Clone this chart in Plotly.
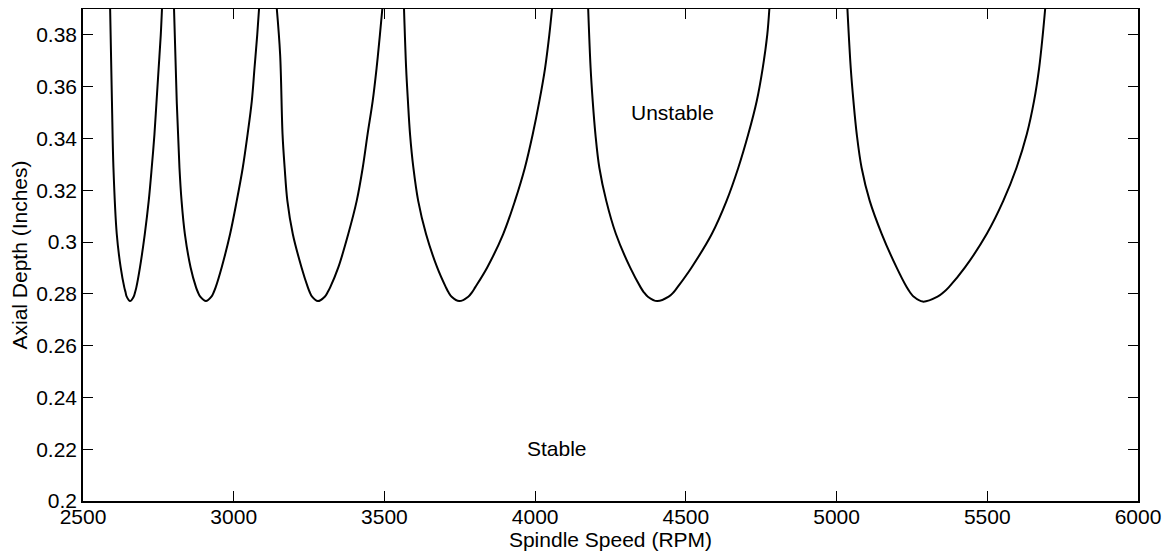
import plotly.graph_objects as go

# Stability lobes (spindle speed in RPM, axial depth in inches)
lobe1_rpm = [2590, 2596, 2601, 2612, 2625, 2637, 2641, 2645, 2656, 2668, 2673, 2677, 2689, 2705, 2718, 2728, 2737, 2744, 2751, 2758, 2762]
lobe1_depth = [0.390, 0.3544, 0.3287, 0.3031, 0.2902, 0.2825, 0.2807, 0.2789, 0.2772, 0.2789, 0.2807, 0.2825, 0.2902, 0.3031, 0.3159, 0.3287, 0.3416, 0.3544, 0.3672, 0.3800, 0.390]

lobe2_rpm = [2802, 2811, 2820, 2827, 2838, 2857, 2875, 2881, 2889, 2908, 2926, 2934, 2940, 2960, 2988, 3010, 3030, 3046, 3060, 3069, 3078, 3084]
lobe2_depth = [0.390, 0.3544, 0.3287, 0.3159, 0.3031, 0.2902, 0.2825, 0.2807, 0.2789, 0.2772, 0.2789, 0.2807, 0.2825, 0.2902, 0.3031, 0.3159, 0.3287, 0.3416, 0.3544, 0.3672, 0.3800, 0.390]

lobe3_rpm = [3143, 3154, 3162, 3169, 3178, 3196, 3225, 3246, 3252, 3260, 3279, 3302, 3312, 3320, 3347, 3380, 3408, 3428, 3444, 3461, 3474, 3485, 3493]
lobe3_depth = [0.390, 0.3724, 0.3416, 0.3287, 0.3159, 0.3031, 0.2902, 0.2825, 0.2807, 0.2789, 0.2772, 0.2789, 0.2807, 0.2825, 0.2902, 0.3031, 0.3159, 0.3287, 0.3416, 0.3544, 0.3672, 0.3800, 0.390]

lobe4_rpm = [3565, 3572, 3578, 3585, 3596, 3612, 3638, 3675, 3704, 3712, 3723, 3748, 3778, 3791, 3801, 3841, 3894, 3933, 3966, 3992, 4014, 4033, 4047, 4056]
lobe4_depth = [0.390, 0.3672, 0.3544, 0.3416, 0.3287, 0.3159, 0.3031, 0.2902, 0.2825, 0.2807, 0.2789, 0.2772, 0.2789, 0.2807, 0.2825, 0.2902, 0.3031, 0.3159, 0.3287, 0.3416, 0.3544, 0.3672, 0.3800, 0.390]

lobe5_rpm = [4176, 4184, 4191, 4200, 4213, 4236, 4268, 4315, 4350, 4360, 4374, 4405, 4443, 4460, 4472, 4519, 4586, 4635, 4674, 4707, 4735, 4755, 4770, 4777]
lobe5_depth = [0.390, 0.3672, 0.3544, 0.3416, 0.3287, 0.3159, 0.3031, 0.2902, 0.2825, 0.2807, 0.2789, 0.2772, 0.2789, 0.2807, 0.2825, 0.2902, 0.3031, 0.3159, 0.3287, 0.3416, 0.3544, 0.3672, 0.3800, 0.390]

lobe6_rpm = [5036, 5047, 5056, 5067, 5083, 5110, 5150, 5199, 5233, 5243, 5256, 5286, 5335, 5356, 5372, 5426, 5498, 5553, 5597, 5631, 5655, 5672, 5684, 5692]
lobe6_depth = [0.390, 0.3672, 0.3544, 0.3416, 0.3287, 0.3159, 0.3031, 0.2902, 0.2825, 0.2807, 0.2789, 0.2770, 0.2789, 0.2807, 0.2825, 0.2902, 0.3031, 0.3159, 0.3287, 0.3416, 0.3544, 0.3672, 0.3800, 0.390]

lobes = [
    (lobe1_rpm, lobe1_depth),
    (lobe2_rpm, lobe2_depth),
    (lobe3_rpm, lobe3_depth),
    (lobe4_rpm, lobe4_depth),
    (lobe5_rpm, lobe5_depth),
    (lobe6_rpm, lobe6_depth),
]

x_ticks = [2500, 3000, 3500, 4000, 4500, 5000, 5500, 6000]
x_ticktext = ["2500", "3000", "3500", "4000", "4500", "5000", "5500", "6000"]
y_ticks = [0.20, 0.22, 0.24, 0.26, 0.28, 0.30, 0.32, 0.34, 0.36, 0.38]
y_ticktext = ["0.2", "0.22", "0.24", "0.26", "0.28", "0.3", "0.32", "0.34", "0.36", "0.38"]

region_labels = ["Unstable", "Stable"]
region_x = [4310, 3965]
region_y = [0.350, 0.2203]

FONT = "Liberation Sans, Arial, Helvetica, sans-serif"
FS = 21

fig = go.Figure()
for rpm, depth in lobes:
    fig.add_trace(go.Scatter(
        x=rpm, y=depth, mode="lines",
        line=dict(color="black", width=2, shape="spline", smoothing=1.0),
        showlegend=False, hoverinfo="x+y",
    ))

for txt, xx, yy in zip(region_labels, region_x, region_y):
    fig.add_annotation(x=xx, y=yy, text=txt, showarrow=False, xanchor="left", yanchor="middle",
                       font=dict(family=FONT, size=FS, color="black"))

axis_common = dict(
    showline=True, linecolor="black", linewidth=1.5, mirror="ticks",
    ticks="inside", ticklen=10, tickwidth=1, tickcolor="black",
    showgrid=False, zeroline=False, automargin=False,
    tickfont=dict(family=FONT, size=FS, color="black"),
)

fig.update_xaxes(range=[2500, 6000], tickvals=x_ticks, ticktext=x_ticktext,
                 ticklabelstandoff=-4,
                 title=dict(text="Spindle Speed (RPM)", font=dict(family=FONT, size=FS, color="black"), standoff=0),
                 **axis_common)
fig.update_yaxes(range=[0.2, 0.39], tickvals=y_ticks, ticktext=y_ticktext,
                 title=dict(text="Axial Depth (Inches)", font=dict(family=FONT, size=FS, color="black"), standoff=8),
                 **axis_common)

# page body has an 8px margin: size the figure so the plot area lands where the reference has it
fig.update_layout(
    width=1162, height=543,
    margin=dict(l=75, r=32, t=1, b=50, autoexpand=False),
    paper_bgcolor="white", plot_bgcolor="white",
    font=dict(family=FONT, size=FS, color="black"),
)

fig.write_html("out.html")
